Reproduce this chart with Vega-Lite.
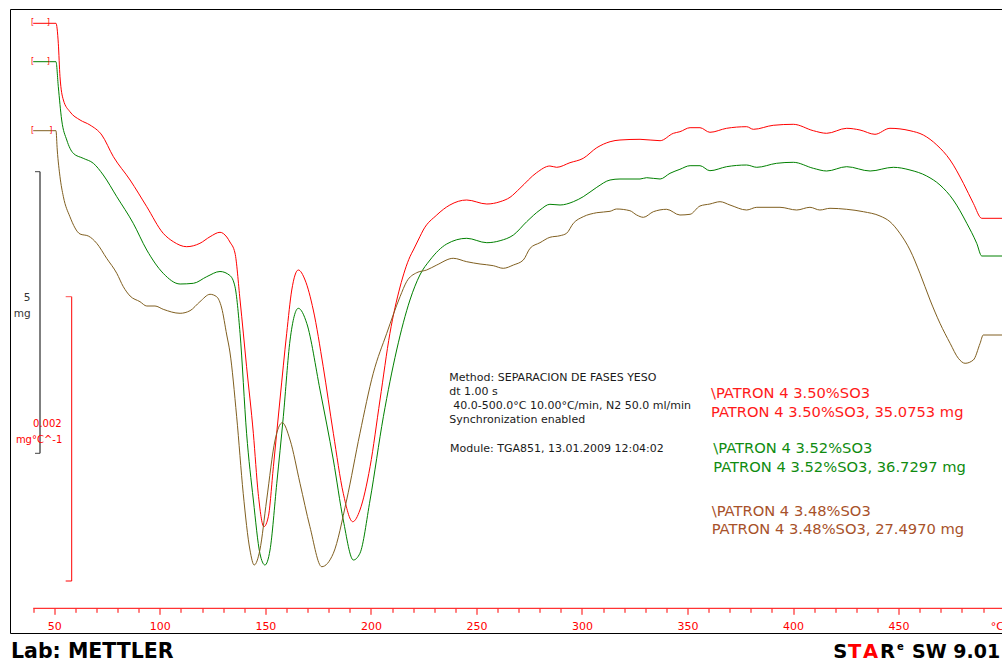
{
"$schema": "https://vega.github.io/schema/vega-lite/v6.json",
"width": 991.5,
"height": 624,
"autosize": {"type": "none"},
"padding": {"left": 10.5, "top": 9.5, "right": 0, "bottom": 29.5},
"background": "white",
"view": {"stroke": null},
"config": {"axis": {"tickSize": 6}},
"data": {"values": [{}]},
"datasets": {
"dtg": [
{"s":"3.50","T":40,"v":610.2},{"s":"3.50","T":50.8,"v":610.2},{"s":"3.50","T":51.9,"v":590.2},{"s":"3.50","T":52.7,"v":556.8},{"s":"3.50","T":54.3,"v":533.5},{"s":"3.50","T":57.4,"v":521.8},{"s":"3.50","T":62.2,"v":513.5},{"s":"3.50","T":66.9,"v":508.5},{"s":"3.50","T":72.5,"v":498.5},{"s":"3.50","T":78,"v":476.8},{"s":"3.50","T":85.9,"v":453.5},{"s":"3.50","T":93.8,"v":426.8},{"s":"3.50","T":101.6,"v":400.2},{"s":"3.50","T":106.4,"v":391.8},{"s":"3.50","T":112.7,"v":386.8},{"s":"3.50","T":119,"v":390.2},{"s":"3.50","T":123.8,"v":396.8},{"s":"3.50","T":128.5,"v":401.2},{"s":"3.50","T":131.7,"v":396.5},{"s":"3.50","T":133.2,"v":391.5},{"s":"3.50","T":135.6,"v":380.5},{"s":"3.50","T":138,"v":333.5},{"s":"3.50","T":141.1,"v":266.8},{"s":"3.50","T":144.3,"v":200.2},{"s":"3.50","T":146.6,"v":140.2},{"s":"3.50","T":149.3,"v":106.8},{"s":"3.50","T":151.4,"v":116.8},{"s":"3.50","T":153.8,"v":166.8},{"s":"3.50","T":156.9,"v":233.5},{"s":"3.50","T":160.1,"v":300.2},{"s":"3.50","T":162.5,"v":343.5},{"s":"3.50","T":165.6,"v":363.5},{"s":"3.50","T":168.8,"v":353.5},{"s":"3.50","T":172.7,"v":323.5},{"s":"3.50","T":177.4,"v":266.8},{"s":"3.50","T":182.2,"v":200.2},{"s":"3.50","T":186.9,"v":140.2},{"s":"3.50","T":191.4,"v":111.8},{"s":"3.50","T":194.8,"v":123.5},{"s":"3.50","T":199.6,"v":166.8},{"s":"3.50","T":204.3,"v":233.5},{"s":"3.50","T":209,"v":300.2},{"s":"3.50","T":213.8,"v":346.5},{"s":"3.50","T":218.5,"v":376.8},{"s":"3.50","T":220.1,"v":383.5},{"s":"3.50","T":223.2,"v":396.8},{"s":"3.50","T":224.8,"v":403.5},{"s":"3.50","T":231.2,"v":418.5},{"s":"3.50","T":237.4,"v":428.5},{"s":"3.50","T":245.4,"v":433.5},{"s":"3.50","T":254.9,"v":429.5},{"s":"3.50","T":261.2,"v":431.8},{"s":"3.50","T":265.9,"v":436.2},{"s":"3.50","T":270.6,"v":445.2},{"s":"3.50","T":278.5,"v":460.8},{"s":"3.50","T":284.8,"v":467.5},{"s":"3.50","T":288,"v":466.2},{"s":"3.50","T":294.3,"v":470.8},{"s":"3.50","T":300.6,"v":475.2},{"s":"3.50","T":307,"v":485.8},{"s":"3.50","T":313.3,"v":491.8},{"s":"3.50","T":318,"v":493.5},{"s":"3.50","T":327.5,"v":494.2},{"s":"3.50","T":337,"v":492.8},{"s":"3.50","T":343.3,"v":500.2},{"s":"3.50","T":346.4,"v":501.8},{"s":"3.50","T":351.2,"v":505.8},{"s":"3.50","T":355.9,"v":505.8},{"s":"3.50","T":360.6,"v":501.2},{"s":"3.50","T":368.5,"v":505.2},{"s":"3.50","T":378,"v":506.8},{"s":"3.50","T":381.2,"v":504.2},{"s":"3.50","T":390.6,"v":508.2},{"s":"3.50","T":400.1,"v":509.2},{"s":"3.50","T":409.6,"v":502.8},{"s":"3.50","T":415.9,"v":500.2},{"s":"3.50","T":425.4,"v":505.2},{"s":"3.50","T":431.7,"v":503.5},{"s":"3.50","T":438.8,"v":499.2},{"s":"3.50","T":445.9,"v":505.2},{"s":"3.50","T":455.4,"v":502.8},{"s":"3.50","T":461.7,"v":498.5},{"s":"3.50","T":468.1,"v":488.5},{"s":"3.50","T":474.4,"v":473.5},{"s":"3.50","T":480.7,"v":450.2},{"s":"3.50","T":485.4,"v":430.2},{"s":"3.50","T":489.4,"v":415.2},{"s":"3.50","T":499,"v":415.2},
{"s":"3.52","T":40,"v":571.8},{"s":"3.52","T":50.8,"v":571.8},{"s":"3.52","T":51.9,"v":546.8},{"s":"3.52","T":53.5,"v":513.5},{"s":"3.52","T":55.9,"v":493.5},{"s":"3.52","T":59,"v":480.2},{"s":"3.52","T":63.7,"v":475.2},{"s":"3.52","T":68.5,"v":470.2},{"s":"3.52","T":73.2,"v":458.5},{"s":"3.52","T":79.6,"v":436.8},{"s":"3.52","T":87.4,"v":410.2},{"s":"3.52","T":93.8,"v":383.5},{"s":"3.52","T":101.6,"v":360.2},{"s":"3.52","T":109.6,"v":349.5},{"s":"3.52","T":115.9,"v":350.2},{"s":"3.52","T":122.2,"v":356.8},{"s":"3.52","T":128.5,"v":362},{"s":"3.52","T":133.2,"v":358},{"s":"3.52","T":135.6,"v":346.8},{"s":"3.52","T":138,"v":300.2},{"s":"3.52","T":141.1,"v":200.2},{"s":"3.52","T":144.3,"v":133.5},{"s":"3.52","T":147.4,"v":80.2},{"s":"3.52","T":149.8,"v":68.5},{"s":"3.52","T":152.2,"v":83.5},{"s":"3.52","T":155.4,"v":150.2},{"s":"3.52","T":158.5,"v":216.8},{"s":"3.52","T":161.7,"v":293.5},{"s":"3.52","T":165.6,"v":325.2},{"s":"3.52","T":169.6,"v":310.2},{"s":"3.52","T":175.9,"v":243.5},{"s":"3.52","T":182.2,"v":173.5},{"s":"3.52","T":186.9,"v":113.5},{"s":"3.52","T":191.7,"v":73.5},{"s":"3.52","T":194.8,"v":80.2},{"s":"3.52","T":199.6,"v":133.5},{"s":"3.52","T":205.9,"v":216.8},{"s":"3.52","T":212.2,"v":283.5},{"s":"3.52","T":218.5,"v":333.5},{"s":"3.52","T":223.2,"v":358.5},{"s":"3.52","T":228,"v":373.5},{"s":"3.52","T":235.9,"v":389.5},{"s":"3.52","T":245.4,"v":395.2},{"s":"3.52","T":254.9,"v":390.8},{"s":"3.52","T":261.2,"v":392.8},{"s":"3.52","T":267.5,"v":398.5},{"s":"3.52","T":273.8,"v":411.8},{"s":"3.52","T":280.1,"v":423.5},{"s":"3.52","T":284.8,"v":429.2},{"s":"3.52","T":289.6,"v":428.5},{"s":"3.52","T":295.9,"v":431.8},{"s":"3.52","T":300.6,"v":436.8},{"s":"3.52","T":307,"v":446.2},{"s":"3.52","T":313.3,"v":453.5},{"s":"3.52","T":318,"v":454.5},{"s":"3.52","T":327.5,"v":454.5},{"s":"3.52","T":330.6,"v":455.8},{"s":"3.52","T":337,"v":454.5},{"s":"3.52","T":341.7,"v":460.2},{"s":"3.52","T":346.4,"v":464.2},{"s":"3.52","T":351.2,"v":467.8},{"s":"3.52","T":355.9,"v":467.8},{"s":"3.52","T":360.6,"v":462.8},{"s":"3.52","T":368.5,"v":466.8},{"s":"3.52","T":378,"v":468.5},{"s":"3.52","T":382.8,"v":466.2},{"s":"3.52","T":392.2,"v":470.2},{"s":"3.52","T":400.1,"v":471.2},{"s":"3.52","T":409.6,"v":465.2},{"s":"3.52","T":415.9,"v":462.5},{"s":"3.52","T":425.4,"v":466.8},{"s":"3.52","T":436.5,"v":462.5},{"s":"3.52","T":447.5,"v":466.2},{"s":"3.52","T":455.4,"v":463.5},{"s":"3.52","T":463.3,"v":457.5},{"s":"3.52","T":469.6,"v":448.5},{"s":"3.52","T":475.9,"v":433.5},{"s":"3.52","T":482.3,"v":410.2},{"s":"3.52","T":487,"v":390.2},{"s":"3.52","T":489.4,"v":377.5},{"s":"3.52","T":499,"v":377.5},
{"s":"3.48","T":40,"v":502.8},{"s":"3.48","T":50.8,"v":502.8},{"s":"3.48","T":51.4,"v":483.5},{"s":"3.48","T":52.7,"v":456.8},{"s":"3.48","T":54.3,"v":436.8},{"s":"3.48","T":57.4,"v":416.8},{"s":"3.48","T":62.2,"v":399.5},{"s":"3.48","T":66.1,"v":397.5},{"s":"3.48","T":70.1,"v":390.2},{"s":"3.48","T":74.8,"v":375.2},{"s":"3.48","T":79.6,"v":360.2},{"s":"3.48","T":82.7,"v":346.8},{"s":"3.48","T":85.9,"v":337.5},{"s":"3.48","T":90.6,"v":331.8},{"s":"3.48","T":93.8,"v":327.5},{"s":"3.48","T":97.7,"v":327.5},{"s":"3.48","T":101.6,"v":324.2},{"s":"3.48","T":109.6,"v":320.2},{"s":"3.48","T":114.3,"v":322.8},{"s":"3.48","T":119,"v":331.8},{"s":"3.48","T":123.8,"v":339.2},{"s":"3.48","T":126.9,"v":336.8},{"s":"3.48","T":129.3,"v":325.5},{"s":"3.48","T":131.7,"v":298.5},{"s":"3.48","T":133.2,"v":281.5},{"s":"3.48","T":136.4,"v":216.8},{"s":"3.48","T":139.5,"v":140.2},{"s":"3.48","T":142.7,"v":83.5},{"s":"3.48","T":144.7,"v":68.5},{"s":"3.48","T":147.4,"v":83.5},{"s":"3.48","T":150.6,"v":133.5},{"s":"3.48","T":154.6,"v":193.5},{"s":"3.48","T":158,"v":210.8},{"s":"3.48","T":161.7,"v":193.5},{"s":"3.48","T":166.4,"v":150.2},{"s":"3.48","T":171.1,"v":106.8},{"s":"3.48","T":176.7,"v":66.8},{"s":"3.48","T":182.2,"v":80.2},{"s":"3.48","T":188.5,"v":133.5},{"s":"3.48","T":194.8,"v":200.2},{"s":"3.48","T":201.1,"v":260.2},{"s":"3.48","T":207.5,"v":300.2},{"s":"3.48","T":213.8,"v":336.8},{"s":"3.48","T":216.9,"v":351.8},{"s":"3.48","T":221.7,"v":360.8},{"s":"3.48","T":226.4,"v":363.5},{"s":"3.48","T":231.2,"v":368.5},{"s":"3.48","T":239,"v":375.2},{"s":"3.48","T":245.4,"v":371.8},{"s":"3.48","T":251.7,"v":369.5},{"s":"3.48","T":258,"v":367.8},{"s":"3.48","T":262.7,"v":365.2},{"s":"3.48","T":267.5,"v":368.5},{"s":"3.48","T":272.2,"v":373.5},{"s":"3.48","T":275.4,"v":385.2},{"s":"3.48","T":280.1,"v":390.8},{"s":"3.48","T":284.8,"v":396.2},{"s":"3.48","T":289.6,"v":397.8},{"s":"3.48","T":292.7,"v":400.2},{"s":"3.48","T":295.9,"v":410.2},{"s":"3.48","T":300.6,"v":416.8},{"s":"3.48","T":307,"v":420.8},{"s":"3.48","T":313.3,"v":422.2},{"s":"3.48","T":316.4,"v":424.5},{"s":"3.48","T":322.7,"v":422.8},{"s":"3.48","T":325.9,"v":418.5},{"s":"3.48","T":329.1,"v":416.2},{"s":"3.48","T":333.8,"v":421.8},{"s":"3.48","T":340.1,"v":424.2},{"s":"3.48","T":346.4,"v":418.5},{"s":"3.48","T":351.2,"v":419.2},{"s":"3.48","T":355.9,"v":427.5},{"s":"3.48","T":360.6,"v":429.5},{"s":"3.48","T":365.4,"v":431.8},{"s":"3.48","T":370.1,"v":428.5},{"s":"3.48","T":378,"v":423.5},{"s":"3.48","T":382.8,"v":426.2},{"s":"3.48","T":393.8,"v":426.2},{"s":"3.48","T":401.7,"v":423.5},{"s":"3.48","T":408,"v":426.2},{"s":"3.48","T":412.7,"v":423.5},{"s":"3.48","T":417.5,"v":425.2},{"s":"3.48","T":425.4,"v":424.2},{"s":"3.48","T":433.3,"v":421.8},{"s":"3.48","T":441.2,"v":417.5},{"s":"3.48","T":445.9,"v":411.8},{"s":"3.48","T":450.6,"v":400.2},{"s":"3.48","T":455.4,"v":383.5},{"s":"3.48","T":460.1,"v":360.2},{"s":"3.48","T":464.9,"v":333.5},{"s":"3.48","T":469.6,"v":310.2},{"s":"3.48","T":474.4,"v":290.2},{"s":"3.48","T":478.3,"v":275.2},{"s":"3.48","T":481.5,"v":270.2},{"s":"3.48","T":485.4,"v":273.5},{"s":"3.48","T":488.6,"v":290.2},{"s":"3.48","T":490.1,"v":298.5},{"s":"3.48","T":499,"v":298.5}
]
},
"layer": [
{"data": {"name": "dtg"},
 "mark": {"type": "line", "strokeWidth": 1, "interpolate": "monotone"},
 "encoding": {
  "x": {"field": "T", "type": "quantitative", "scale": {"domain": [29.25, 498.98], "nice": false, "zero": false},
        "axis": {"orient": "bottom", "offset": -25.2, "title": null, "domain": false, "grid": false,
                 "values": [40,50,60,70,80,90,100,110,120,130,140,150,160,170,180,190,200,210,220,230,240,250,260,270,280,290,300,310,320,330,340,350,360,370,380,390,400,410,420,430,440,450,460,470,480,490],
                 "tickCount": 47,
                 "tickColor": "#ff0000",
                 "tickSize": {"condition": {"test": "datum.value % 50 == 0", "value": 6}, "value": 4},
                 "labelExpr": "datum.value % 50 == 0 ? format(datum.value, 'd') : ''",
                 "labelColor": "#ff0000", "labelFont": "DejaVu Sans", "labelFontSize": 11,
                 "labelBaseline": "top", "labelPadding": 6, "labelFlush": false, "labelOverlap": false, "labelBound": false}},
  "y": {"field": "v", "type": "quantitative", "scale": {"domain": [0, 624], "nice": false, "zero": false}, "axis": null},
  "color": {"field": "s", "type": "nominal", "scale": {"domain": ["3.50", "3.52", "3.48"], "range": ["#ff0000", "#008000", "#805f20"]}, "legend": null}
 }},
{"mark": {"type": "rule", "color": "black", "strokeWidth": 1}, "encoding": {"x": {"datum": 29.25}, "x2": {"datum": 499}, "y": {"datum": 624}}},
{"mark": {"type": "rule", "color": "black", "strokeWidth": 1}, "encoding": {"x": {"datum": 29.25}, "x2": {"datum": 499}, "y": {"datum": 0}}},
{"mark": {"type": "rule", "color": "black", "strokeWidth": 1}, "encoding": {"x": {"datum": 29.25}, "y": {"datum": 0}, "y2": {"datum": 624}}},
{"mark": {"type": "rule", "color": "#ff0000", "strokeWidth": 1}, "encoding": {"x": {"datum": 40}, "x2": {"datum": 499}, "y": {"datum": 25.2}}},
{"mark": {"type": "text", "text": "°C", "align": "left", "baseline": "alphabetic", "font": "DejaVu Sans", "fontSize": 11, "color": "#ff0000"}, "encoding": {"x": {"datum": 493.63}, "y": {"datum": 3.5}}},
{"mark": {"type": "rule", "color": "black", "strokeWidth": 1}, "encoding": {"x": {"datum": 43.23}, "y": {"datum": 461.8}, "y2": {"datum": 180.2}}},
{"mark": {"type": "rule", "color": "#444444", "strokeWidth": 1}, "encoding": {"x": {"datum": 40.86}, "x2": {"datum": 43.23}, "y": {"datum": 461.8}}},
{"mark": {"type": "rule", "color": "#444444", "strokeWidth": 1}, "encoding": {"x": {"datum": 40.86}, "x2": {"datum": 43.23}, "y": {"datum": 180.2}}},
{"mark": {"type": "rule", "color": "#ff0000", "strokeWidth": 1}, "encoding": {"x": {"datum": 58.24}, "y": {"datum": 336.8}, "y2": {"datum": 52.5}}},
{"mark": {"type": "rule", "color": "#ff5050", "strokeWidth": 1}, "encoding": {"x": {"datum": 55.4}, "x2": {"datum": 58.24}, "y": {"datum": 336.8}}},
{"mark": {"type": "rule", "color": "#ff0000", "strokeWidth": 1}, "encoding": {"x": {"datum": 55.4}, "x2": {"datum": 58.24}, "y": {"datum": 52.5}}},
{"mark": {"type": "text", "text": "5", "align": "right", "baseline": "middle", "font": "DejaVu Sans", "fontSize": 10.5, "color": "#333333"}, "encoding": {"x": {"datum": 38.72}, "y": {"datum": 335.5}}},
{"mark": {"type": "text", "text": "mg", "align": "right", "baseline": "middle", "font": "DejaVu Sans", "fontSize": 10.5, "color": "#333333"}, "encoding": {"x": {"datum": 38.82}, "y": {"datum": 319.5}}},
{"mark": {"type": "text", "text": "0.002", "align": "right", "baseline": "middle", "font": "DejaVu Sans", "fontSize": 10, "color": "#ff0000"}, "encoding": {"x": {"datum": 53.51}, "y": {"datum": 209.2}}},
{"mark": {"type": "text", "text": "mg°C^-1", "align": "right", "baseline": "middle", "font": "DejaVu Sans", "fontSize": 10, "color": "#ff0000"}, "encoding": {"x": {"datum": 53.79}, "y": {"datum": 193.5}}},
{"mark": {"type": "text", "text": "[", "align": "left", "baseline": "middle", "font": "DejaVu Sans", "fontSize": 8, "color": "#ff0000"}, "encoding": {"x": {"datum": 38.96}, "y": {"datum": 610.2}}},
{"mark": {"type": "text", "text": "]", "align": "left", "baseline": "middle", "font": "DejaVu Sans", "fontSize": 8, "color": "#ff0000"}, "encoding": {"x": {"datum": 46.4}, "y": {"datum": 610.2}}},
{"mark": {"type": "text", "text": "[", "align": "left", "baseline": "middle", "font": "DejaVu Sans", "fontSize": 8, "color": "#ff0000"}, "encoding": {"x": {"datum": 38.96}, "y": {"datum": 571.8}}},
{"mark": {"type": "text", "text": "]", "align": "left", "baseline": "middle", "font": "DejaVu Sans", "fontSize": 8, "color": "#ff0000"}, "encoding": {"x": {"datum": 46.4}, "y": {"datum": 571.8}}},
{"mark": {"type": "text", "text": "[", "align": "left", "baseline": "middle", "font": "DejaVu Sans", "fontSize": 8, "color": "#ff0000"}, "encoding": {"x": {"datum": 38.96}, "y": {"datum": 502.8}}},
{"mark": {"type": "text", "text": "]", "align": "left", "baseline": "middle", "font": "DejaVu Sans", "fontSize": 8, "color": "#ff0000"}, "encoding": {"x": {"datum": 47.63}, "y": {"datum": 502.8}}},
{"mark": {"type": "text", "text": ["Method: SEPARACION DE FASES YESO", "dt 1.00 s"], "align": "left", "baseline": "alphabetic", "lineHeight": 14, "font": "DejaVu Sans", "fontSize": 11, "color": "#1a1a1a"}, "encoding": {"x": {"datum": 237.13}, "y": {"datum": 252.8}}},
{"mark": {"type": "text", "text": "40.0-500.0°C 10.00°C/min, N2 50.0 ml/min", "align": "left", "baseline": "alphabetic", "font": "DejaVu Sans", "fontSize": 11, "color": "#1a1a1a"}, "encoding": {"x": {"datum": 239.03}, "y": {"datum": 224.8}}},
{"mark": {"type": "text", "text": "Synchronization enabled", "align": "left", "baseline": "alphabetic", "font": "DejaVu Sans", "fontSize": 11, "color": "#1a1a1a"}, "encoding": {"x": {"datum": 237.13}, "y": {"datum": 210.8}}},
{"mark": {"type": "text", "text": "Module: TGA851, 13.01.2009 12:04:02", "align": "left", "baseline": "alphabetic", "font": "DejaVu Sans", "fontSize": 11, "color": "#1a1a1a"}, "encoding": {"x": {"datum": 237.46}, "y": {"datum": 181.8}}},
{"mark": {"type": "text", "text": ["\\PATRON 4 3.50%SO3", "PATRON 4 3.50%SO3, 35.0753 mg"], "align": "left", "baseline": "alphabetic", "lineHeight": 18.4, "font": "DejaVu Sans", "fontSize": 14.7, "color": "#ff1a1a"}, "encoding": {"x": {"datum": 361.11}, "y": {"datum": 235.2}}},
{"mark": {"type": "text", "text": ["\\PATRON 4 3.52%SO3", "PATRON 4 3.52%SO3, 36.7297 mg"], "align": "left", "baseline": "alphabetic", "lineHeight": 18.4, "font": "DejaVu Sans", "fontSize": 14.7, "color": "#108c10"}, "encoding": {"x": {"datum": 362.2}, "y": {"datum": 180.2}}},
{"mark": {"type": "text", "text": ["\\PATRON 4 3.48%SO3", "PATRON 4 3.48%SO3, 27.4970 mg"], "align": "left", "baseline": "alphabetic", "lineHeight": 18.4, "font": "DejaVu Sans", "fontSize": 14.7, "color": "#a8522a"}, "encoding": {"x": {"datum": 361.45}, "y": {"datum": 117.5}}},
{"mark": {"type": "text", "text": "Lab: METTLER", "align": "left", "baseline": "alphabetic", "font": "DejaVu Sans", "fontWeight": "bold", "fontSize": 20.5, "color": "black"}, "encoding": {"x": {"datum": 29.49}, "y": {"datum": -24.2}}},
{"mark": {"type": "text", "text": "S", "align": "left", "baseline": "alphabetic", "font": "DejaVu Sans", "fontWeight": "bold", "fontSize": 19.5, "color": "black"}, "encoding": {"x": {"datum": 419.05}, "y": {"datum": -24.2}}},
{"mark": {"type": "text", "text": "T", "align": "left", "baseline": "alphabetic", "font": "DejaVu Sans", "fontWeight": "bold", "fontSize": 19.5, "color": "#ff0000"}, "encoding": {"x": {"datum": 426.0}, "y": {"datum": -24.2}}},
{"mark": {"type": "text", "text": "A", "align": "left", "baseline": "alphabetic", "font": "DejaVu Sans", "fontWeight": "bold", "fontSize": 19.5, "color": "#ff0000"}, "encoding": {"x": {"datum": 433.12}, "y": {"datum": -24.2}}},
{"mark": {"type": "text", "text": "R", "align": "left", "baseline": "alphabetic", "font": "DejaVu Sans", "fontWeight": "bold", "fontSize": 19.5, "color": "black"}, "encoding": {"x": {"datum": 441.17}, "y": {"datum": -24.2}}},
{"mark": {"type": "text", "text": "e", "align": "left", "baseline": "alphabetic", "font": "DejaVu Sans", "fontWeight": "bold", "fontSize": 10, "color": "black"}, "encoding": {"x": {"datum": 449.23}, "y": {"datum": -16.5}}},
{"mark": {"type": "text", "text": "SW 9.01", "align": "left", "baseline": "alphabetic", "font": "DejaVu Sans", "fontWeight": "bold", "fontSize": 19, "color": "black"}, "encoding": {"x": {"datum": 456.34}, "y": {"datum": -24.2}}}
]
}
